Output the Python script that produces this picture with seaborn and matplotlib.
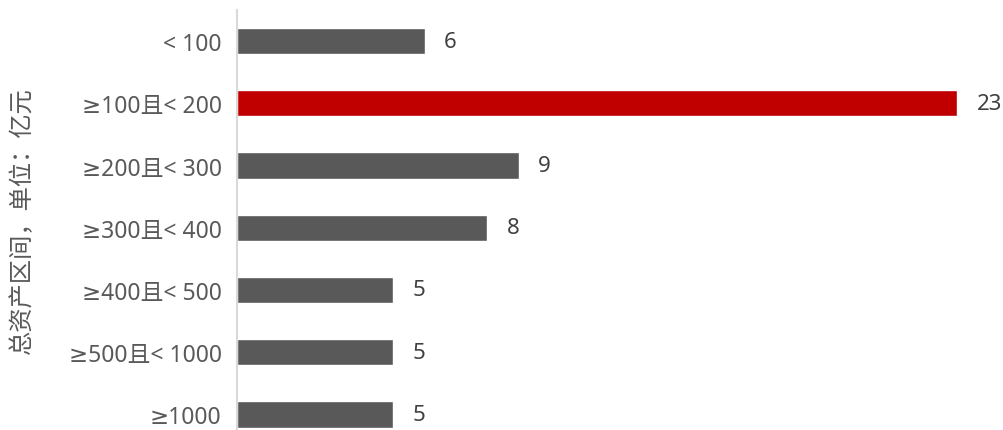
import matplotlib
matplotlib.use("Agg")
import matplotlib.pyplot as plt
import seaborn as sns
import pandas as pd

categories = ["< 100", "≥100且< 200", "≥200且< 300", "≥300且< 400", "≥400且< 500", "≥500且< 1000", "≥1000"]
values = [6, 23, 9, 8, 5, 5, 5]
highlight = [False, True, False, False, False, False, False]
y_label = "总资产区间，单位：亿元"

sns.set_theme(style="white")
plt.rcParams['font.family'] = ['Noto Sans', 'DejaVu Sans', 'Noto Sans CJK SC']

df = pd.DataFrame({"cat": categories, "val": values,
                   "grp": ["hi" if h else "lo" for h in highlight]})

fig = plt.figure(figsize=(10.04, 4.31), dpi=100)
ax = fig.add_axes([0.236, 0.0, 0.764, 0.9745])
sns.barplot(data=df, y="cat", x="val", hue="grp", palette={"hi": "#C00000", "lo": "#595959"},
            order=categories, orient="h", width=0.42, dodge=False, legend=False, ax=ax,
            saturation=1)

for cont in ax.containers:
    ax.bar_label(cont, padding=14, fontsize=16, color="#404040")

ax.set_xlim(0, 24.5)
ax.set_ylim(6.25, -0.5)
ax.set_xticks([])
ax.set_xlabel("")
ax.set_ylabel(y_label, fontsize=17.5, color="#595959", labelpad=24,
              family=['Noto Sans CJK SC', 'DejaVu Sans'])
ax.tick_params(axis="y", length=0, pad=11, labelsize=16.5, labelcolor="#595959")
for s in ["top", "right", "bottom"]:
    ax.spines[s].set_visible(False)
ax.spines["left"].set_color("#D9D9D9")
ax.spines["left"].set_linewidth(1.5)

fig.savefig("out.png", dpi=100)
